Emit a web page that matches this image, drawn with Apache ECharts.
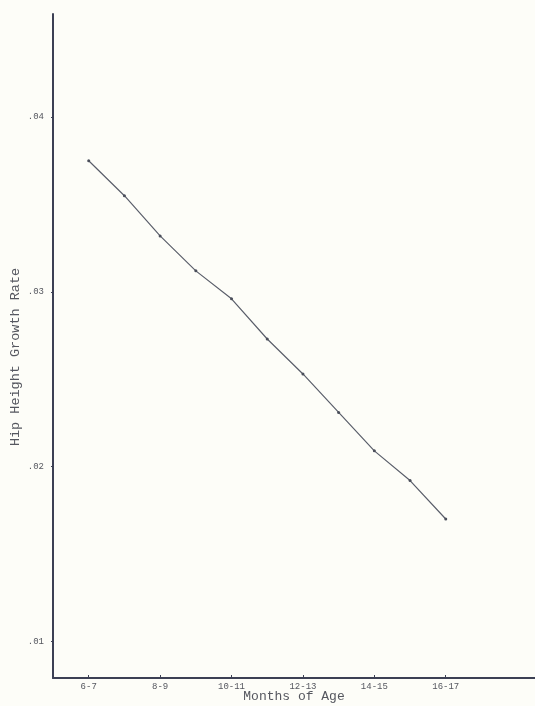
<!DOCTYPE html>
<html>
<head>
<meta charset="utf-8">
<script src="https://cdn.jsdelivr.net/npm/echarts@6/dist/echarts.min.js"></script>
<style>
html,body{margin:0;padding:0;background:#fdfdf8;}
#chart{width:535px;height:706px;}
</style>
</head>
<body>
<div id="chart"></div>
<script>
// Starting month of each two-month age period (6-7, 7-8, ... 16-17)
const startMonths = [6, 7, 8, 9, 10, 11, 12, 13, 14, 15, 16];
// Hip height growth rate per period
const growthRate = [0.0375, 0.0355, 0.0332, 0.0312, 0.0296, 0.0273, 0.0253, 0.0231, 0.0209, 0.0192, 0.0170];
// Labelled x ticks (starting months) and y ticks
const xTickMonths = [6, 8, 10, 12, 14, 16];
const yTicks = [0.01, 0.02, 0.03, 0.04];

const seriesData = startMonths.map((m, i) => [m, growthRate[i]]);
const mono = '"Liberation Mono", "DejaVu Sans Mono", monospace';

const chart = echarts.init(document.getElementById('chart'), null, {renderer: 'canvas'});
chart.setOption({
  backgroundColor: '#fdfdf8',
  animation: false,
  grid: {left: 53, right: 0, top: 14, bottom: 28, containLabel: false, outerBoundsMode: 'none'},
  xAxis: {
    type: 'value',
    min: 5,
    max: 18.5,
    name: 'Months of Age',
    nameLocation: 'middle',
    nameGap: 12,
    nameMoveOverlap: false,
    nameTextStyle: {fontFamily: mono, fontSize: 13, color: '#55575f'},
    axisLine: {show: true, lineStyle: {color: '#3c4054', width: 2}},
    axisTick: {show: true, inside: true, length: 3, customValues: xTickMonths, lineStyle: {color: '#3c4054'}},
    axisLabel: {
      customValues: xTickMonths,
      fontFamily: mono, fontSize: 9, color: '#55575f', margin: 4,
      formatter: v => v + '-' + (v + 1)
    },
    splitLine: {show: false}
  },
  yAxis: {
    type: 'value',
    min: 0.0079,
    max: 0.0459,
    name: 'Hip Height Growth Rate',
    nameLocation: 'middle',
    nameRotate: 90,
    nameGap: 31,
    nameMoveOverlap: false,
    nameTextStyle: {fontFamily: mono, fontSize: 13.5, color: '#55575f', padding: [0, 22, 0, 0]},
    axisLine: {show: true, lineStyle: {color: '#3c4054', width: 2}},
    axisTick: {show: true, inside: false, length: 2, customValues: yTicks, lineStyle: {color: '#3c4054'}},
    axisLabel: {
      customValues: yTicks,
      fontFamily: mono, fontSize: 9, color: '#55575f', margin: 9,
      formatter: v => '.' + String(Math.round(v * 100)).padStart(2, '0')
    },
    splitLine: {show: false}
  },
  series: [{
    type: 'line',
    data: seriesData,
    symbol: 'circle',
    symbolSize: 3,
    showSymbol: true,
    lineStyle: {color: '#5a5e6a', width: 1.2},
    itemStyle: {color: '#4a4e5a'}
  }]
});
</script>
</body>
</html>
